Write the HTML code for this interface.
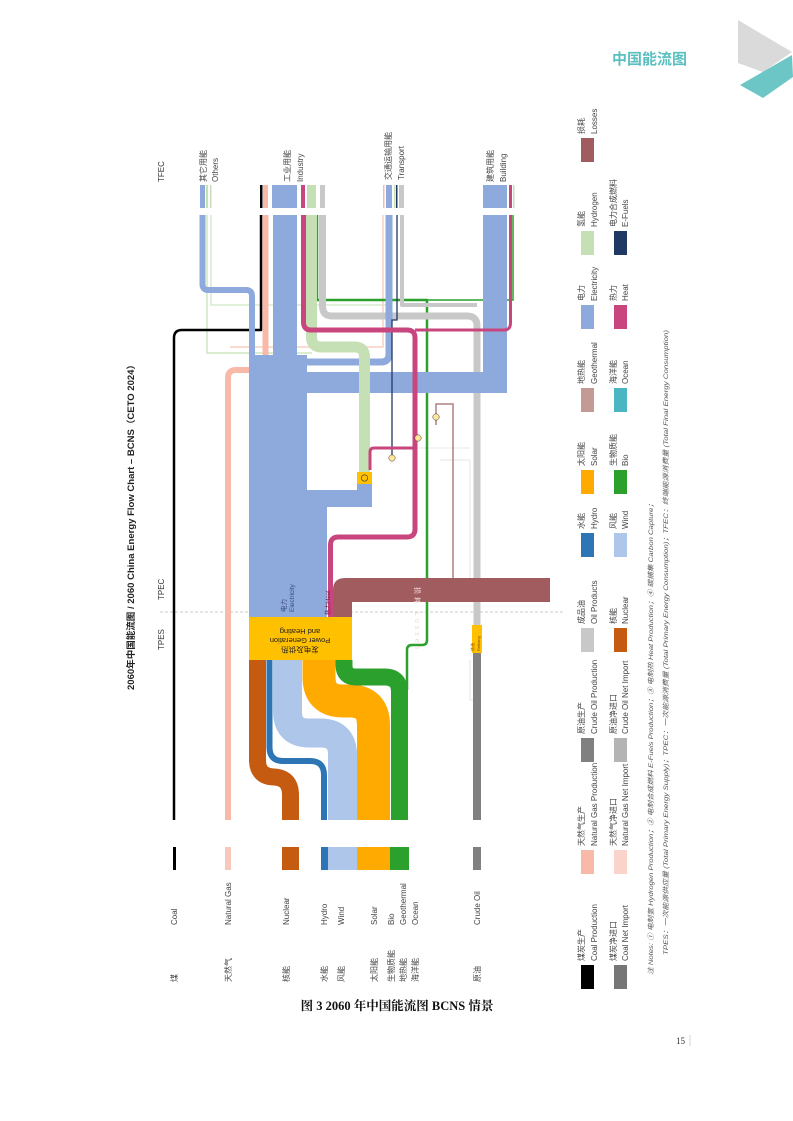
<!DOCTYPE html>
<html><head><meta charset="utf-8"><style>
html,body{margin:0;padding:0;background:#fff}
svg{display:block}
text{font-family:"Liberation Sans","Noto Sans CJK SC",sans-serif}
</style></head><body>
<svg width="793" height="1121" viewBox="0 0 793 1121" xmlns="http://www.w3.org/2000/svg">
<text x="612" y="64" font-size="15" font-weight="bold" fill="#5BBFC0">中国能流图</text>
<polygon points="738,20 792,52 763,72 738,63" fill="#DADADA"/>
<polygon points="792,55 793,77 763,98 740,85" fill="#6CC6C6"/>

<text transform="translate(134,690) rotate(-90)" font-size="9" font-weight="bold" fill="#222" textLength="330" lengthAdjust="spacingAndGlyphs">2060年中国能流图 / 2060 China Energy Flow Chart – BCNS（CETO 2024）</text>
<text transform="translate(164,650) rotate(-90)" font-size="8" fill="#333">TPES</text>
<text transform="translate(164,600) rotate(-90)" font-size="8" fill="#333">TPEC</text>
<text transform="translate(164,182) rotate(-90)" font-size="8" fill="#333">TFEC</text>
<line x1="160" y1="612" x2="565" y2="612" stroke="#bbb" stroke-width="0.8" stroke-dasharray="3,2"/>

<g fill="none" stroke-linejoin="round">
<path d="M207,215 V353 H312" stroke="#CFE6C2" stroke-width="1.5"/>
<path d="M211,215 V305 H392 V215" stroke="#CFE6C2" stroke-width="1.2"/>
<path d="M230,347 H383 V215" stroke="#F8CFC2" stroke-width="1.5"/>
<path d="M440,460 H470 V580" stroke="#e4e4e4" stroke-width="1"/>
<path d="M370,468 V448 H470" stroke="#e8e8e8" stroke-width="1"/>
<path d="M330,600 H470" stroke="#eee" stroke-width="1"/>
<path d="M470,660 V700 H480" stroke="#e4e4e4" stroke-width="1"/>
</g>

<g fill="none">
<path d="M290.5,820 V795 Q290.5,777 272.5,777 H275 Q257.5,777 257.5,760 V660" stroke="#C55A11" stroke-width="17"/>
<path d="M324,820 V775 Q324,761 310,761 H283 Q269.5,761 269.5,747 V660" stroke="#2E75B6" stroke-width="6"/>
<path d="M342.5,820 V755 Q342.5,733 320.5,733 H309 Q287.5,733 287.5,711 V660" stroke="#ADC6EA" stroke-width="29"/>
<path d="M373.5,820 V725 Q373.5,701 349.5,701 H343 Q319,701 319,677 V660" stroke="#FFAA00" stroke-width="33"/>
<path d="M399.5,820 V692 Q399.5,677 384.5,677 H356 Q344,677 344,665 V660" stroke="#2CA02C" stroke-width="17"/>
<path d="M407,690 V650 Q407,645 412,645 H422 Q427,645 427,640 V300 H317 V215" stroke="#2CA02C" stroke-width="2.5" stroke-linejoin="round"/>
<path d="M427,300 H513 V215" stroke="#2CA02C" stroke-width="1.5"/>
</g>
<g fill="none" stroke-linejoin="round">
<path d="M174,820 V338 Q174,330 182,330 H261 V215" stroke="#000" stroke-width="2.5"/>
<path d="M228,820 V378 Q228,370 236,370 H265.5 V215" stroke="#F8B9A8" stroke-width="6"/>
</g>
<rect x="473" y="653" width="8" height="167" fill="#808080"/>
<path d="M477,625 V326 Q477,316 467,316 H332 Q322.5,316 322.5,306 V215" fill="none" stroke="#C8C8C8" stroke-width="7"/>
<path d="M402,215 V305 H477" fill="none" stroke="#C8C8C8" stroke-width="4" stroke-linejoin="round"/>
<rect x="472" y="625" width="10" height="28" fill="#FFC000"/>
<text transform="translate(474,651) rotate(-90)" font-size="4" fill="#7a4a00">炼油</text>
<text transform="translate(480,651) rotate(-90)" font-size="4" fill="#7a4a00">Refining</text>

<g fill="#8EA9DB">
<rect x="249" y="355" width="58" height="262"/>
<rect x="307" y="500" width="20" height="117"/>
<rect x="273" y="215" width="24" height="150"/>
<rect x="285" y="372" width="222" height="21"/>
<rect x="483" y="215" width="24" height="178"/>
<rect x="307" y="490" width="65" height="17"/>
<rect x="357" y="483" width="15" height="24"/>
</g>
<g fill="none" stroke="#8EA9DB" stroke-linejoin="round">
<path d="M389,215 V354 Q389,362 381,362 H290" stroke-width="7"/>
<path d="M202.5,215 V284 Q202.5,290 208,290 H246 Q252,290 252,296 V360" stroke-width="6"/>
</g>
<text transform="translate(286,612) rotate(-90)" font-size="6.5" fill="#3b4d8a">电力</text>
<text transform="translate(294,612) rotate(-90)" font-size="6.5" fill="#3b4d8a">Electricity</text>

<path d="M364.5,472 V357 Q364.5,347 354.5,347 H321.5 Q311.5,347 311.5,337 V215" fill="none" stroke="#C5E0B4" stroke-width="11"/>
<rect x="357" y="472" width="15" height="12" fill="#FFC000"/>
<circle cx="364.5" cy="478" r="3.2" fill="none" stroke="#333" stroke-width="0.6"/>
<path d="M397,215 V320 H392 V455" fill="none" stroke="#1F3864" stroke-width="1.3"/>
<g fill="none" stroke="#C8467D" stroke-linejoin="round">
<path d="M330.5,617 V545 Q330.5,537 338.5,537 H407 Q415,537 415,529 V338 Q415,330 407,330 H311 Q303.5,330 303.5,322 V215" stroke-width="5"/>
<path d="M415,330 H504 Q510.5,330 510.5,323 V215" stroke-width="3"/>
<path d="M370,470 V452 Q370,448 374,448 H415" stroke-width="3"/>
</g>
<path d="M436,425 V404 H453 V578" fill="none" stroke="#B08080" stroke-width="1.5"/>
<circle cx="392" cy="458" r="3.2" fill="#FFE699" stroke="#333" stroke-width="0.5"/>
<circle cx="418" cy="438" r="3.2" fill="#FFE699" stroke="#333" stroke-width="0.5"/>
<circle cx="436" cy="417" r="3.2" fill="#FFE699" stroke="#333" stroke-width="0.5"/>
<text transform="translate(330,615) rotate(-90)" font-size="6" fill="#7a1a40">热力Heat</text>

<path d="M333,617 V590 Q333,578 345,578 H550 V602 H352 V617 Z" fill="#A05C5F"/>
<text transform="translate(415,587) rotate(90)" font-size="7" fill="#f0dada" letter-spacing="3">损耗 Losses</text>

<rect x="249" y="617" width="103" height="43" fill="#FFC000"/>
<g transform="translate(300,638) rotate(180)" font-size="7.5" fill="#222" text-anchor="middle">
<text y="-9">发电及供热</text>
<text y="0">Power Generation</text>
<text y="9">and Heating</text>
</g>

<rect x="173" y="847" width="3" height="23" fill="#000"/>
<rect x="225" y="847" width="6" height="23" fill="#F8C8BC"/>
<rect x="282" y="847" width="17" height="23" fill="#C55A11"/>
<rect x="321" y="847" width="7" height="23" fill="#2E75B6"/>
<rect x="328" y="847" width="29" height="23" fill="#ADC6EA"/>
<rect x="357" y="847" width="33" height="23" fill="#FFAA00"/>
<rect x="390" y="847" width="19" height="23" fill="#2CA02C"/>
<rect x="473" y="847" width="8" height="23" fill="#808080"/>

<g>
<rect x="200" y="185" width="5" height="23" fill="#8EA9DB"/>
<rect x="206" y="185" width="2" height="23" fill="#C5E0B4"/>
<rect x="210" y="185" width="1.5" height="23" fill="#C5E0B4"/>
<rect x="260" y="185" width="2.5" height="23" fill="#000"/>
<rect x="263" y="185" width="5" height="23" fill="#F8B9A8"/>
<rect x="272" y="185" width="25" height="23" fill="#8EA9DB"/>
<rect x="301" y="185" width="4" height="23" fill="#C8467D"/>
<rect x="307" y="185" width="9" height="23" fill="#C5E0B4"/>
<rect x="320" y="185" width="5" height="23" fill="#C8C8C8"/>
<rect x="383" y="185" width="1.5" height="23" fill="#F8B9A8"/>
<rect x="386" y="185" width="6" height="23" fill="#8EA9DB"/>
<rect x="394" y="185" width="1.5" height="23" fill="#C5E0B4"/>
<rect x="396" y="185" width="1.5" height="23" fill="#1F3864"/>
<rect x="399" y="185" width="5" height="23" fill="#C8C8C8"/>
<rect x="483" y="185" width="24" height="23" fill="#8EA9DB"/>
<rect x="509" y="185" width="3" height="23" fill="#C8467D"/>
<rect x="513" y="185" width="1.5" height="23" fill="#C5E0B4"/>
</g>
<g font-size="8" fill="#444">
<text transform="translate(206,182) rotate(-90)">其它用能</text>
<text transform="translate(218,182) rotate(-90)">Others</text>
<text transform="translate(290,182) rotate(-90)">工业用能</text>
<text transform="translate(303,182) rotate(-90)">Industry</text>
<text transform="translate(391,180) rotate(-90)">交通运输用能</text>
<text transform="translate(404,180) rotate(-90)">Transport</text>
<text transform="translate(493,182) rotate(-90)">建筑用能</text>
<text transform="translate(506,182) rotate(-90)">Building</text>
</g>

<g font-size="8" fill="#444">
<text transform="translate(177,925) rotate(-90)">Coal</text>
<text transform="translate(231,925) rotate(-90)">Natural Gas</text>
<text transform="translate(289,925) rotate(-90)">Nuclear</text>
<text transform="translate(327,925) rotate(-90)">Hydro</text>
<text transform="translate(344,925) rotate(-90)">Wind</text>
<text transform="translate(377,925) rotate(-90)">Solar</text>
<text transform="translate(394,925) rotate(-90)">Bio</text>
<text transform="translate(406,925) rotate(-90)">Geothermal</text>
<text transform="translate(418,925) rotate(-90)">Ocean</text>
<text transform="translate(480,925) rotate(-90)">Crude Oil</text>
<text transform="translate(177,982) rotate(-90)">煤</text>
<text transform="translate(231,982) rotate(-90)">天然气</text>
<text transform="translate(289,982) rotate(-90)">核能</text>
<text transform="translate(327,982) rotate(-90)">水能</text>
<text transform="translate(344,982) rotate(-90)">风能</text>
<text transform="translate(377,982) rotate(-90)">太阳能</text>
<text transform="translate(394,982) rotate(-90)">生物质能</text>
<text transform="translate(406,982) rotate(-90)">地热能</text>
<text transform="translate(418,982) rotate(-90)">海洋能</text>
<text transform="translate(480,982) rotate(-90)">原油</text>
</g>

<g>
<rect x="581" y="138" width="13" height="24" fill="#A05C5F"/>
<rect x="581" y="231" width="13" height="24" fill="#C5E0B4"/>
<rect x="581" y="305" width="13" height="24" fill="#8EA9DB"/>
<rect x="581" y="388" width="13" height="24" fill="#C49A96"/>
<rect x="581" y="470" width="13" height="24" fill="#FFAA00"/>
<rect x="581" y="533" width="13" height="24" fill="#2E75B6"/>
<rect x="581" y="628" width="13" height="24" fill="#C8C8C8"/>
<rect x="581" y="738" width="13" height="24" fill="#808080"/>
<rect x="581" y="850" width="13" height="24" fill="#F8B9A8"/>
<rect x="581" y="965" width="13" height="24" fill="#000"/>
<rect x="614" y="231" width="13" height="24" fill="#1F3864"/>
<rect x="614" y="305" width="13" height="24" fill="#C8467D"/>
<rect x="614" y="388" width="13" height="24" fill="#4BB5C1"/>
<rect x="614" y="470" width="13" height="24" fill="#2CA02C"/>
<rect x="614" y="533" width="13" height="24" fill="#ADC6EA"/>
<rect x="614" y="628" width="13" height="24" fill="#C55A11"/>
<rect x="614" y="738" width="13" height="24" fill="#B4B4B4"/>
<rect x="614" y="850" width="13" height="24" fill="#FAD3CA"/>
<rect x="614" y="965" width="13" height="24" fill="#767676"/>
</g>
<g font-size="8" fill="#444">
<text transform="translate(584,134) rotate(-90)">损耗</text><text transform="translate(597,134) rotate(-90)">Losses</text>
<text transform="translate(584,227) rotate(-90)">氢能</text><text transform="translate(597,227) rotate(-90)">Hydrogen</text>
<text transform="translate(584,301) rotate(-90)">电力</text><text transform="translate(597,301) rotate(-90)">Electricity</text>
<text transform="translate(584,384) rotate(-90)">地热能</text><text transform="translate(597,384) rotate(-90)">Geothermal</text>
<text transform="translate(584,466) rotate(-90)">太阳能</text><text transform="translate(597,466) rotate(-90)">Solar</text>
<text transform="translate(584,529) rotate(-90)">水能</text><text transform="translate(597,529) rotate(-90)">Hydro</text>
<text transform="translate(584,624) rotate(-90)">成品油</text><text transform="translate(597,624) rotate(-90)">Oil Products</text>
<text transform="translate(584,734) rotate(-90)">原油生产</text><text transform="translate(597,734) rotate(-90)">Crude Oil Production</text>
<text transform="translate(584,846) rotate(-90)">天然气生产</text><text transform="translate(597,846) rotate(-90)">Natural Gas Production</text>
<text transform="translate(584,961) rotate(-90)">煤炭生产</text><text transform="translate(597,961) rotate(-90)">Coal Production</text>
<text transform="translate(616,227) rotate(-90)">电力合成燃料</text><text transform="translate(628,227) rotate(-90)">E-Fuels</text>
<text transform="translate(616,301) rotate(-90)">热力</text><text transform="translate(628,301) rotate(-90)">Heat</text>
<text transform="translate(616,384) rotate(-90)">海洋能</text><text transform="translate(628,384) rotate(-90)">Ocean</text>
<text transform="translate(616,466) rotate(-90)">生物质能</text><text transform="translate(628,466) rotate(-90)">Bio</text>
<text transform="translate(616,529) rotate(-90)">风能</text><text transform="translate(628,529) rotate(-90)">Wind</text>
<text transform="translate(616,624) rotate(-90)">核能</text><text transform="translate(628,624) rotate(-90)">Nuclear</text>
<text transform="translate(616,734) rotate(-90)">原油净进口</text><text transform="translate(628,734) rotate(-90)">Crude Oil Net Import</text>
<text transform="translate(616,846) rotate(-90)">天然气净进口</text><text transform="translate(628,846) rotate(-90)">Natural Gas Net Import</text>
<text transform="translate(616,961) rotate(-90)">煤炭净进口</text><text transform="translate(628,961) rotate(-90)">Coal Net Import</text>
</g>
<g font-size="6.5" fill="#555" font-style="italic">
<text transform="translate(653,975) rotate(-90)" textLength="475" lengthAdjust="spacingAndGlyphs">注 Notes: ① 电制氢 Hydrogen Production；② 电制合成燃料 E-Fuels Production；③ 电制热 Heat Production；④ 碳捕集 Carbon Capture；</text>
<text transform="translate(668,955) rotate(-90)" textLength="625" lengthAdjust="spacingAndGlyphs">TPES：一次能源供应量 (Total Primary Energy Supply)；TPEC：一次能源消费量 (Total Primary Energy Consumption)；TFEC：终端能源消费量 (Total Final Energy Consumption)</text>
</g>

<text x="397" y="1010" font-size="12.5" font-weight="bold" fill="#111" text-anchor="middle" style="font-family:'Liberation Serif','Noto Serif CJK SC',serif">图 3  2060 年中国能流图 BCNS 情景</text>
<text x="676" y="1044" font-size="9" fill="#333" style="font-family:'Liberation Serif',serif">15</text>
<line x1="690" y1="1035" x2="690" y2="1046" stroke="#ccc" stroke-width="0.8"/>
</svg>
</body></html>
